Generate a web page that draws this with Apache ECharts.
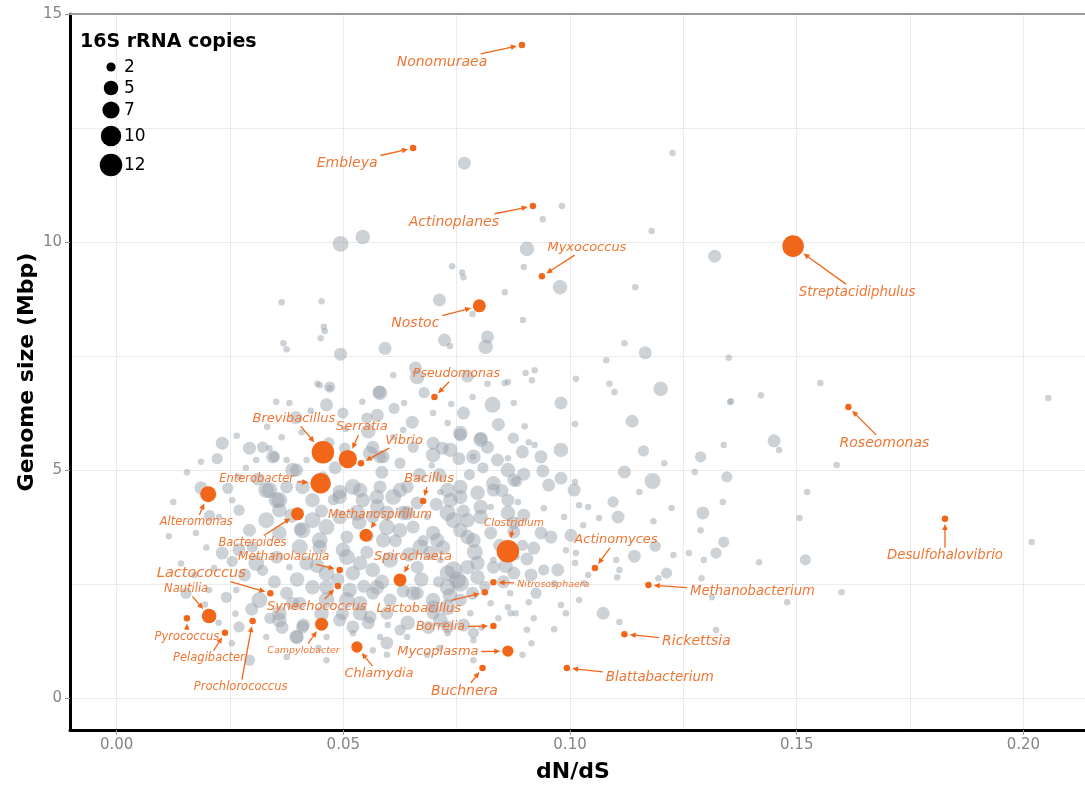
<!DOCTYPE html>
<html>
<head>
<meta charset="utf-8">
<script src="https://cdn.jsdelivr.net/npm/echarts/dist/echarts.min.js"></script>
<style>
html,body{margin:0;padding:0;background:#ffffff;}
#c{width:1085px;height:786px;}
</style>
</head>
<body>
<div id="c"></div>
<script>
// ---------------- DATA ----------------
const xTickValues = [0, 0.05, 0.10, 0.15, 0.20];
const yTickValues = [0, 5, 10, 15];
const xGridValues = [0, 0.025, 0.05, 0.075, 0.10, 0.125, 0.15, 0.175, 0.20];
const yGridValues = [0, 2.5, 5, 7.5, 10, 12.5, 15];
const legendCopies = [2, 5, 7, 10, 12];

// highlighted genera
const genusNames = ["Nonomuraea","Embleya","Actinoplanes","Myxococcus","Streptacidiphulus","Nostoc","Pseudomonas","Roseomonas","Brevibacillus","Serratia","Vibrio","Enterobacter","Alteromonas","Bacillus","Bacteroides","Methanospirillum","Clostridium","Desulfohalovibrio","Actinomyces","Methanolacinia","Spirochaeta","Nitrososphaera","Lactococcus","Methanobacterium","Synechococcus","Lactobacillus","Nautilia","Pyrococcus","Borrelia","Campylobacter","Pelagibacter","Rickettsia","Prochlorococcus","Chlamydia","Mycoplasma","Buchnera","Blattabacterium"];
const genusDnDs   = [0.0894,0.0654,0.0918,0.0938,0.1492,0.0800,0.0701,0.1614,0.0455,0.0510,0.0539,0.0450,0.0202,0.0676,0.0399,0.0550,0.0863,0.1827,0.1055,0.0492,0.0625,0.0831,0.0339,0.1173,0.0488,0.0812,0.0204,0.0155,0.0831,0.0452,0.0239,0.1120,0.0300,0.0530,0.0863,0.0807,0.0993];
const genusGenome = [14.32,12.06,10.79,9.25,9.91,8.60,6.60,6.38,5.39,5.24,5.15,4.71,4.47,4.32,4.04,3.57,3.22,3.93,2.85,2.81,2.59,2.54,2.30,2.48,2.46,2.32,1.80,1.75,1.58,1.62,1.43,1.40,1.69,1.12,1.03,0.66,0.66];
const genusCopies = [1,1,1,1,11,4,1,1,12,8,1,10,6,1,4,4,12,1,1,1,4,1,1,1,1,1,5,1,1,4,1,1,1,3,3,1,1];

// label layout (pixel offset of label centre from its point, font size)
const labelDx   = [-80,-66,-79,45,64,-64,22,36,-29,14,43,-64,-12,6,-45,14,6,0,21,-56,13,60,-69,104,-21,-66,-23,0,-53,-18,-16,72,-12,22,-70,-18,93];
const labelDy   = [17,15,16,-29,46,17,-23,36,-34,-32,-23,-4,28,-22,29,-20,-28,37,-28,-13,-23,2,-20,7,21,16,-27,19,1,26,25,7,66,27,1,23,10];
const labelFont = [14,14,14,13,13.3,14,12.5,14,13,13,13,11.5,11.5,13,11.5,12,10.5,13.3,13,12,13,9.5,14.5,13.2,13,13,11.5,11.5,12.5,9.5,11.5,14,11.5,13,13,14,13.4];

// all other genera: [dN/dS, genome size (Mbp), 16S copies]
const otherGenera = [
[0.0767,11.73,4],[0.0982,10.79,1],[0.094,10.5,1],[0.0494,9.96,6],[0.0543,10.11,5],[0.0905,9.85,5],[0.074,9.47,1],[0.0765,9.23,1],[0.0762,9.33,1],[0.0898,9.45,1],[0.0978,9.01,5],[0.0856,8.9,1],[0.0712,8.73,4],[0.0785,8.42,1],[0.0896,8.29,1],[0.0364,8.68,1],[0.0452,8.7,1],[0.0457,8.14,1],[0.0459,8.05,1],[0.045,7.89,1],[0.0368,7.78,1],[0.0375,7.65,1],[0.0494,7.54,4],[0.0592,7.67,4],[0.0723,7.85,4],[0.0735,7.72,1],[0.0818,7.92,4],[0.0814,7.7,5],[0.0659,7.24,4],[0.0663,7.04,5],[0.061,7.08,1],[0.0579,6.71,4],[0.0443,6.89,1],[0.047,6.8,1],[0.0774,7.06,4],[0.0902,7.13,1],[0.0922,7.19,1],[0.0916,6.97,1],[0.0856,6.91,1],[0.0818,6.89,1],[0.098,6.47,4],[0.0829,6.43,6],[0.0634,6.47,1],[0.0463,6.43,4],[0.0381,6.47,1],
[0.1226,11.95,1],[0.118,10.24,1],[0.1319,9.69,4],[0.1144,9.01,1],[0.112,7.78,1],[0.1166,7.57,4],[0.135,7.46,1],[0.108,7.41,1],[0.1013,7.0,1],[0.1087,6.89,1],[0.1098,6.71,1],[0.12,6.78,5],[0.1355,6.51,1],[0.1421,6.64,1],[0.1552,6.91,1],
[0.1011,6.01,1],[0.1137,6.07,4],[0.1353,6.49,1],[0.09,5.96,1],[0.0909,5.61,1],[0.098,5.44,5],[0.0936,5.29,4],[0.0863,5.26,1],[0.1162,5.42,3],[0.1288,5.29,3],[0.1339,5.55,1],[0.145,5.64,4],[0.1461,5.44,1],[0.1208,5.15,1],[0.112,4.96,4],[0.1182,4.76,6],[0.1275,4.96,1],[0.1346,4.85,3],[0.1523,4.52,1],[0.0898,4.91,4],[0.094,4.98,4],[0.098,4.82,4],[0.0953,4.67,4],[0.1009,4.56,4],[0.1011,4.74,1],[0.1153,4.52,1],[0.1095,4.3,3],[0.1224,4.17,1],[0.1337,4.3,1],[0.1293,4.06,4],[0.1106,3.97,4],[0.1064,3.95,1],[0.104,4.19,1],[0.102,4.23,1],[0.1506,3.95,1],[0.1184,3.88,1],[0.1288,3.68,1],[0.1339,3.42,3],[0.1322,3.18,3],[0.1142,3.11,4],[0.1188,3.33,3],[0.1228,3.14,1],[0.1262,3.18,1],[0.1295,3.03,1],[0.1417,2.98,1],[0.1519,3.03,3],[0.1213,2.74,3],[0.129,2.63,1],[0.1195,2.63,1],[0.1102,3.03,1],[0.1109,2.81,1],[0.1104,2.65,1],[0.1313,2.21,1],[0.1479,2.1,1],[0.1073,1.86,4],[0.1109,1.67,1],[0.1322,1.49,1],[0.104,2.7,1],[0.1031,2.52,1],[0.0942,2.81,3],[0.0973,2.81,4],[0.0914,2.7,4],[0.0925,2.3,3],[0.0965,2.52,1],[0.0909,2.1,1],[0.0863,1.99,1],[0.088,1.86,1],[0.092,1.75,1],[0.0965,1.51,1],[0.098,2.04,1],[0.102,2.15,1],[0.0991,1.86,1],[0.0958,3.53,4],[0.1002,3.57,4],[0.0987,3.97,1],[0.1029,3.79,1],[0.092,3.29,4],[0.1013,3.18,1],[0.1011,2.96,1],[0.0991,3.24,1],[0.0936,3.62,4],[0.0898,4.01,4],[0.0942,4.16,1],[0.0876,3.64,4],
[0.2055,6.58,1],[0.1588,5.11,1],[0.2018,3.42,1],[0.1599,2.32,1],
[0.0448,6.86,1],[0.047,6.82,3],[0.0499,6.25,3],[0.0552,6.14,3],[0.0698,6.25,1],[0.073,6.03,1],[0.0758,5.77,4],[0.0803,5.7,4],[0.0863,6.93,1],[0.0876,6.47,1],[0.0233,5.59,4],[0.0186,5.18,1],[0.0293,5.48,4],[0.0337,5.48,1],[0.0348,5.29,3],[0.0308,5.22,1],[0.0397,5.0,4],[0.0375,5.22,1],[0.0419,5.22,1],[0.0364,5.72,1],[0.0408,5.83,1],[0.0503,5.48,3],[0.0565,5.5,4],[0.0588,5.29,4],[0.061,5.72,1],[0.0632,5.88,1],[0.0654,5.5,3],[0.0698,5.59,4],[0.0736,5.44,5],[0.0786,5.29,1],[0.0818,5.5,4],[0.084,5.22,4],[0.0863,5.0,5],
[0.0186,4.61,4],[0.027,4.85,1],[0.0255,4.34,1],[0.033,4.56,6],[0.0353,4.34,6],[0.0375,4.63,4],[0.041,4.63,5],[0.0432,4.34,5],[0.0492,4.52,5],[0.0521,4.63,6],[0.0543,4.34,5],[0.0581,4.63,4],[0.061,4.41,6],[0.0641,4.63,4],[0.0663,4.28,4],[0.0714,4.52,1],[0.0736,4.34,5],[0.0758,4.63,5],[0.0796,4.5,5],[0.0831,4.71,5],[0.0863,4.34,4],[0.0825,4.19,1],
[0.0175,3.62,1],[0.0226,3.97,1],[0.027,4.12,3],[0.0293,3.68,4],[0.033,3.9,6],[0.0359,4.12,5],[0.0359,3.62,5],[0.0432,3.9,6],[0.0463,3.75,6],[0.0448,3.31,5],[0.0492,3.97,5],[0.0508,3.53,4],[0.0565,3.97,4],[0.0596,3.75,6],[0.0632,4.06,5],[0.0654,3.75,4],[0.0685,3.97,1],[0.0698,3.62,5],[0.0743,3.9,6],[0.0774,3.53,5],[0.0803,3.97,5],[0.0825,3.62,4],[0.0876,3.84,4],
[0.0233,3.18,4],[0.027,3.25,4],[0.0308,2.96,6],[0.0299,3.31,3],[0.0353,3.09,4],[0.0381,2.87,1],[0.0404,3.31,6],[0.0419,2.96,5],[0.0463,2.74,6],[0.0508,3.09,6],[0.0521,2.74,5],[0.0552,3.2,4],[0.0565,2.81,5],[0.0603,3.03,6],[0.0663,2.87,4],[0.0692,3.18,5],[0.0714,3.03,1],[0.0752,2.59,7],[0.073,2.74,6],[0.0774,2.87,5],[0.0796,2.65,5],[0.0831,3.03,1],[0.0876,2.74,4],
[0.0153,2.3,3],[0.0204,2.37,1],[0.0242,2.21,3],[0.0264,2.37,1],[0.0315,2.15,6],[0.0359,1.86,5],[0.0375,2.3,4],[0.0404,2.08,4],[0.0432,2.43,5],[0.0463,2.15,6],[0.0508,2.15,6],[0.0537,1.86,5],[0.0565,2.3,4],[0.0596,1.86,4],[0.0603,2.15,4],[0.0663,2.3,4],[0.0698,2.0,4],[0.0714,1.71,5],[0.0758,2.15,4],[0.078,1.86,1],[0.0825,2.08,1],[0.0869,1.86,1],[0.027,1.56,3],[0.033,1.34,1],[0.0397,1.34,4],[0.0463,1.34,1],[0.0521,1.42,1],[0.0581,1.34,1],[0.0641,1.34,1],[0.073,1.42,1],[0.0787,1.27,1],[0.0463,0.83,1],[0.0565,1.05,1],[0.0254,1.2,1],[0.0375,0.9,1],[0.0596,0.95,1],[0.0787,0.83,1],
[0.0386,4.0,5],[0.0405,3.7,4],[0.0452,4.1,4],[0.0478,4.35,3],[0.0535,3.85,5],[0.0575,4.2,5],[0.0555,3.55,3],[0.0615,3.45,4],[0.0645,3.15,5],[0.0676,3.45,3],[0.0705,4.25,4],[0.072,3.3,5],[0.0765,4.1,4],[0.079,3.2,6],[0.0845,3.35,4],[0.0858,2.9,5],[0.0812,2.45,3],[0.0785,2.3,4],[0.0735,2.25,5],[0.071,2.55,3],[0.0672,2.6,5],[0.0632,2.35,4],[0.0585,2.55,5],[0.0545,2.45,4],[0.0488,2.6,4],[0.0442,2.9,5],[0.0398,2.6,5],[0.0348,2.55,4],[0.0322,2.8,3],[0.0282,2.7,4],[0.0255,3.0,3],[0.0215,2.85,1],[0.0198,3.3,1],[0.0205,4.0,3],[0.0245,4.6,3],[0.0312,4.8,4],[0.0285,5.05,1],[0.0455,4.85,3],[0.0482,5.05,4],[0.0585,4.95,4],[0.0625,5.15,3],[0.0668,4.9,4],[0.0695,5.1,1],[0.0712,4.9,4],[0.0778,4.9,3],[0.0755,5.25,4],[0.0808,5.05,3],[0.085,4.55,4],[0.0882,4.75,3],[0.0885,4.3,1],[0.0895,3.35,3],[0.0882,3.1,1],[0.0905,3.05,4],[0.0853,2.55,4],[0.0868,2.3,1],[0.0842,1.75,1],[0.0905,1.5,1],[0.0805,1.55,1],[0.0765,1.6,4],[0.0688,1.55,4],[0.0642,1.65,5],[0.0598,1.6,1],[0.0555,1.65,4],[0.0498,1.85,4],[0.0452,1.85,5],[0.0412,1.6,4],[0.0365,1.55,4],[0.0338,1.75,3],[0.0298,1.95,4],[0.0262,1.85,1],[0.0225,1.65,1],[0.0195,2.05,1],[0.0172,2.7,1],[0.0142,2.95,1],[0.0115,3.55,1],[0.0125,4.3,1],[0.0155,4.95,1],[0.0222,5.25,3],[0.0265,5.75,1],[0.0332,5.95,1],[0.0395,6.15,4],[0.0428,6.3,1],[0.0352,6.5,1],[0.0542,6.5,1],[0.0575,6.2,4],[0.0612,6.35,3],[0.0652,6.05,4],[0.0678,6.7,3],[0.0738,6.45,1],[0.0765,6.25,4],[0.0785,6.6,1],[0.0842,6.0,4],[0.0875,5.7,3],[0.0895,5.4,4],[0.0922,5.55,1],[0.0555,5.85,5],[0.0505,5.9,1],[0.0468,5.6,3],
[0.0895,0.95,1],[0.0915,1.2,1],[0.0712,1.1,1],[0.0685,0.95,1],[0.0445,1.1,1],[0.0293,0.83,3],
[0.0581,6.69,5],[0.0758,5.81,5],[0.0803,5.66,5],[0.0698,5.33,5],[0.0718,5.48,4],[0.0787,5.29,5],[0.0559,5.37,5],[0.0581,5.29,4],[0.0388,5.0,5],[0.0344,5.29,4],[0.0322,5.5,3],
[0.0337,4.56,6],[0.0359,4.34,6],[0.0492,4.41,5],[0.0537,4.56,5],[0.053,4.06,6],[0.0574,4.41,5],[0.0596,4.06,5],[0.0625,4.56,5],[0.0641,4.06,5],[0.073,4.56,5],[0.0758,4.41,5],[0.073,4.06,6],[0.0774,3.9,5],[0.0803,4.19,5],[0.0831,4.56,4],[0.0863,4.06,5],[0.0876,4.78,4],
[0.041,3.68,6],[0.0448,3.46,6],[0.0499,3.25,5],[0.0537,2.96,5],[0.0588,3.46,5],[0.0625,3.68,5],[0.067,3.31,6],[0.0707,3.46,5],[0.0758,3.68,5],[0.0787,3.46,5],[0.0743,2.81,7],[0.0758,2.52,7],[0.073,2.43,6],[0.0796,2.96,5],[0.0831,2.87,4],[0.0463,2.43,5],[0.0514,2.37,5],[0.0537,2.08,5],[0.0574,2.43,5],[0.0654,2.3,5],[0.0698,2.15,5],[0.073,1.99,6],[0.0388,2.08,4],[0.0359,1.71,5],[0.041,1.56,4],[0.0492,1.71,4],[0.0521,1.56,4],[0.0559,1.78,4],[0.0625,1.49,3],[0.0397,1.34,5],[0.0698,1.86,4],[0.073,1.56,4],[0.0787,1.43,3],[0.0596,1.21,4]
];

// ---------------- CHART ----------------
const X_MIN = -0.01028, X_MAX = 0.21358, Y_MIN = -0.70, Y_MAX = 15;
const GRAY = 'rgba(150,160,172,0.6)';
const ORANGE = '#f2661a';
const LABEL_COLOR = '#f07634';
const sizeOf = c => 6.5 * Math.sqrt(c);
const fmtX = v => v.toFixed(2);

const chart = echarts.init(document.getElementById('c'), null, {renderer: 'canvas', width: 1085, height: 786});

const option = {
  animation: false,
  backgroundColor: '#ffffff',
  grid: {left: 70, right: 0, top: 14, bottom: 56, containLabel: false},
  xAxis: [
    {
      type: 'value', min: X_MIN, max: X_MAX, position: 'bottom',
      axisLine: {show: true, onZero: false, lineStyle: {color: '#000', width: 3}},
      axisTick: {show: true, customValues: xTickValues, length: 5, lineStyle: {color: '#999', width: 1}},
      axisLabel: {show: true, customValues: xTickValues, formatter: fmtX, color: '#858585',
                  fontFamily: 'DejaVu Sans', fontSize: 15, margin: 8},
      splitLine: {show: false}
    },
    {
      type: 'value', min: X_MIN, max: X_MAX, position: 'top',
      axisLine: {show: true, onZero: false, lineStyle: {color: '#9a9a9a', width: 2}},
      axisTick: {show: false, customValues: xGridValues},
      axisLabel: {show: false, customValues: xGridValues},
      splitLine: {show: true, lineStyle: {color: '#ebebeb', width: 1}}
    }
  ],
  yAxis: [
    {
      type: 'value', min: Y_MIN, max: Y_MAX, position: 'left',
      axisLine: {show: true, onZero: false, lineStyle: {color: '#000', width: 3}},
      axisTick: {show: true, customValues: yTickValues, length: 5, lineStyle: {color: '#999', width: 1}},
      axisLabel: {show: true, customValues: yTickValues, color: '#858585',
                  fontFamily: 'DejaVu Sans', fontSize: 15, margin: 8},
      splitLine: {show: false}
    },
    {
      type: 'value', min: Y_MIN, max: Y_MAX, position: 'right',
      axisLine: {show: false},
      axisTick: {show: false, customValues: yGridValues},
      axisLabel: {show: false, customValues: yGridValues},
      splitLine: {show: true, lineStyle: {color: '#ebebeb', width: 1}}
    }
  ],
  series: [
    {
      name: 'other', type: 'scatter', xAxisIndex: 0, yAxisIndex: 0,
      data: otherGenera,
      symbolSize: v => sizeOf(v[2]),
      itemStyle: {color: GRAY},
      z: 2, silent: true
    },
    {
      name: 'highlighted', type: 'scatter', xAxisIndex: 0, yAxisIndex: 0,
      data: genusNames.map((n, i) => ({name: n, value: [genusDnDs[i], genusGenome[i], genusCopies[i]]})),
      symbolSize: v => sizeOf(v[2]),
      itemStyle: {color: ORANGE, opacity: 1},
      z: 3, silent: true
    }
  ]
};
chart.setOption(option);

// ---------------- ANNOTATIONS ----------------
const measure = document.createElement('canvas').getContext('2d');
const elements = [];

genusNames.forEach((name, i) => {
  const p = chart.convertToPixel({xAxisIndex: 0, yAxisIndex: 0}, [genusDnDs[i], genusGenome[i]]);
  const fs = labelFont[i];
  measure.font = 'italic ' + fs + 'px "DejaVu Sans"';
  const w = measure.measureText(name).width;
  const h = fs * 0.75;
  const tx = p[0] + labelDx[i], ty = p[1] + labelDy[i];
  elements.push({
    type: 'text', x: tx, y: ty, z: 100,
    style: {text: name, fill: LABEL_COLOR, fontSize: fs, fontStyle: 'italic', fontFamily: 'DejaVu Sans',
            align: 'center', verticalAlign: 'middle'}
  });
  const dx = p[0] - tx, dy = p[1] - ty;
  const L = Math.hypot(dx, dy);
  if (L < 1) return;
  const ux = dx / L, uy = dy / L;
  const pad = 3;
  const tX = Math.abs(ux) > 1e-6 ? (w / 2 + pad) / Math.abs(ux) : Infinity;
  const tY = Math.abs(uy) > 1e-6 ? (h / 2 + pad) / Math.abs(uy) : Infinity;
  const t0 = Math.min(tX, tY);
  const r = sizeOf(genusCopies[i]) / 2 + 2;
  if (L - r - t0 < 4) return;
  const sx = tx + ux * t0, sy = ty + uy * t0;
  const ex = p[0] - ux * r, ey = p[1] - uy * r;
  const hl = 6, hw = 2.8;
  const bx = ex - ux * hl, by = ey - uy * hl;
  elements.push({type: 'line', z: 100, shape: {x1: sx, y1: sy, x2: bx + ux * 1, y2: by + uy * 1},
                 style: {stroke: ORANGE, lineWidth: 1.3}});
  elements.push({type: 'polygon', z: 100,
                 shape: {points: [[ex, ey], [bx - uy * hw, by + ux * hw], [bx + uy * hw, by - ux * hw]]},
                 style: {fill: ORANGE}});
});

// legend for 16S rRNA copies
elements.push({type: 'text', x: 80, y: 42, z: 100,
  style: {text: '16S rRNA copies', fill: '#000', fontSize: 19, fontWeight: 'bold', fontFamily: 'DejaVu Sans',
          align: 'left', verticalAlign: 'middle'}});
const legendY = [67, 88, 110, 136, 165];
legendCopies.forEach((c, k) => {
  elements.push({type: 'circle', z: 100, shape: {cx: 111, cy: legendY[k], r: sizeOf(c) / 2}, style: {fill: '#000'}});
  elements.push({type: 'text', x: 124, y: legendY[k] + 1, z: 100,
    style: {text: String(c), fill: '#000', fontSize: 17, fontFamily: 'DejaVu Sans', align: 'left', verticalAlign: 'middle'}});
});

// axis titles
elements.push({type: 'text', x: 573, y: 772, z: 100,
  style: {text: 'dN/dS', fill: '#000', fontSize: 22, fontWeight: 'bold', fontFamily: 'DejaVu Sans',
          align: 'center', verticalAlign: 'middle'}});
elements.push({type: 'text', x: 27, y: 372, rotation: Math.PI / 2, z: 100,
  style: {text: 'Genome size (Mbp)', fill: '#000', fontSize: 22, fontWeight: 'bold', fontFamily: 'DejaVu Sans',
          align: 'center', verticalAlign: 'middle'}});

chart.setOption({graphic: {elements: elements}});
</script>
</body>
</html>
